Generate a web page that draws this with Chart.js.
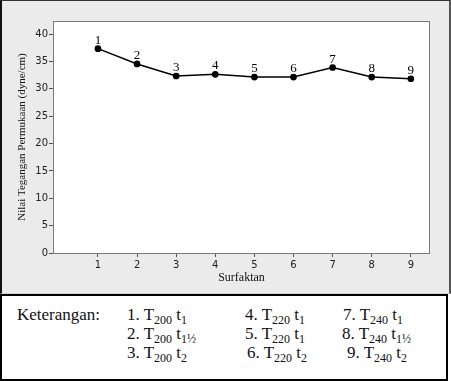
<!DOCTYPE html>
<html lang="id">
<head>
    <meta charset="UTF-8">
    <title>Nilai Tegangan Permukaan</title>
    <script src="https://cdn.jsdelivr.net/npm/chart.js"></script>
    <style>
        body {
            margin: 0;
            background: #fff;
        }
        .frame {
            position: absolute;
            left: 0;
            top: 0;
            width: 447px;
            height: 292px;
            background: #ebebeb;
            border-left: 2px solid #111;
            border-top: 1px solid #333;
            border-right: 2px solid #555;
            border-bottom: 1px solid #d0d0d0;
        }
        .chart-box {
            position: absolute;
            left: 0;
            top: 0;
            width: 447px;
            height: 292px;
        }
        .legend {
            position: absolute;
            left: 0;
            top: 294px;
            width: 444px;
            height: 83px;
            border: 2px solid #000;
            font-family: "Liberation Serif", "Times New Roman", serif;
            font-size: 17px;
            color: #111;
        }
        .legend span {
            position: absolute;
            white-space: nowrap;
            line-height: 1;
        }
        .legend sub {
            font-size: 12px;
            vertical-align: baseline;
            position: relative;
            top: 4px;
        }
    </style>
</head>
<body>
    <div class="frame">
        <div class="chart-box"><canvas id="chart"></canvas></div>
    </div>
    <div class="legend" id="legend"></div>

    <script>
        // data
        const surfaktan = [1, 2, 3, 4, 5, 6, 7, 8, 9];
        const tegangan = [37.35, 34.55, 32.35, 32.65, 32.15, 32.15, 33.9, 32.15, 31.85];
        const pointLabels = ['1', '2', '3', '4', '5', '6', '7', '8', '9'];
        const yTicks = [0, 5, 10, 15, 20, 25, 30, 35, 40];

        // legend (Keterangan) entries
        const legendNo = ['1.', '2.', '3.', '4.', '5.', '6.', '7.', '8.', '9.'];
        const legendTemp = ['200', '200', '200', '220', '220', '220', '240', '240', '240'];
        const legendTime = ['1', '1½', '2', '1', '1', '2', '1', '1½', '2'];

        // legend layout
        const legend = document.getElementById('legend');
        const colX = [125, 125, 125, 243, 243, 245, 341, 340, 345];
        const rowY = [10, 29, 48];
        let head = document.createElement('span');
        head.textContent = 'Keterangan:';
        head.style.left = '15px';
        head.style.top = rowY[0] + 'px';
        legend.appendChild(head);
        legendNo.forEach((n, i) => {
            const s = document.createElement('span');
            s.innerHTML = n + ' T<sub>' + legendTemp[i] + '</sub> t<sub>' + legendTime[i] + '</sub>';
            s.style.left = colX[i] + 'px';
            s.style.top = rowY[i % 3] + 'px';
            legend.appendChild(s);
        });

        // white plot area with gray frame
        const plotFrame = {
            id: 'plotFrame',
            beforeDraw(chart) {
                const a = chart.chartArea;
                const ctx = chart.ctx;
                ctx.save();
                ctx.fillStyle = '#ffffff';
                ctx.fillRect(a.left, a.top, a.right - a.left, a.bottom - a.top);
                ctx.restore();
            },
            afterDraw(chart) {
                const a = chart.chartArea;
                const ctx = chart.ctx;
                ctx.save();
                ctx.strokeStyle = '#7a7a7a';
                ctx.lineWidth = 1;
                ctx.strokeRect(a.left + 0.5, a.top + 0.5, a.right - a.left - 1, a.bottom - a.top);
                ctx.restore();
            }
        };

        // number above each point
        const pointNumbers = {
            id: 'pointNumbers',
            afterDatasetsDraw(chart) {
                const ctx = chart.ctx;
                const meta = chart.getDatasetMeta(0);
                ctx.save();
                ctx.font = '13px "Liberation Serif", serif';
                ctx.fillStyle = '#000';
                ctx.textAlign = 'center';
                ctx.textBaseline = 'alphabetic';
                meta.data.forEach((pt, i) => {
                    ctx.fillText(pointLabels[i], pt.x, pt.y - 5);
                });
                ctx.restore();
            }
        };

        const ctx = document.getElementById('chart').getContext('2d');
        new Chart(ctx, {
            type: 'line',
            data: {
                datasets: [{
                    data: surfaktan.map((x, i) => ({ x: x, y: tegangan[i] })),
                    borderColor: '#000',
                    backgroundColor: '#000',
                    borderWidth: 1.5,
                    pointRadius: 2.6,
                    pointBackgroundColor: '#000',
                    pointBorderColor: '#000',
                    tension: 0
                }]
            },
            options: {
                responsive: true,
                maintainAspectRatio: false,
                animation: false,
                layout: {
                    padding: { top: 20, right: 19, left: 0, bottom: 0 }
                },
                plugins: {
                    legend: { display: false },
                    tooltip: { enabled: false }
                },
                scales: {
                    x: {
                        type: 'linear',
                        min: -0.15,
                        max: 9.49,
                        afterBuildTicks: s => { s.ticks = surfaktan.map(v => ({ value: v })); },
                        afterFit: s => { s.height = 40; },
                        grid: { drawOnChartArea: false, drawTicks: true, tickLength: 4, color: '#555' },
                        border: { display: false },
                        ticks: {
                            color: '#222',
                            padding: 2,
                            font: { family: 'DejaVu Sans', size: 10 },
                            maxRotation: 0
                        },
                        title: {
                            display: true,
                            text: 'Surfaktan',
                            color: '#111',
                            font: { family: 'Liberation Serif', size: 12 },
                            padding: { top: 0, bottom: 8 }
                        }
                    },
                    y: {
                        min: 0,
                        max: 42.4,
                        afterBuildTicks: s => { s.ticks = yTicks.map(v => ({ value: v })); },
                        afterFit: s => { s.width = 51; },
                        grid: { drawOnChartArea: false, drawTicks: true, tickLength: 4, color: '#555' },
                        border: { display: false },
                        ticks: {
                            color: '#222',
                            padding: 1,
                            font: { family: 'DejaVu Sans', size: 10 }
                        },
                        title: {
                            display: true,
                            text: 'Nilai Tegangan Permukaan (dyne/cm)',
                            color: '#111',
                            font: { family: 'Liberation Serif', size: 11 },
                            padding: { top: 14, bottom: 0 }
                        }
                    }
                }
            },
            plugins: [plotFrame, pointNumbers]
        });
    </script>
</body>
</html>
